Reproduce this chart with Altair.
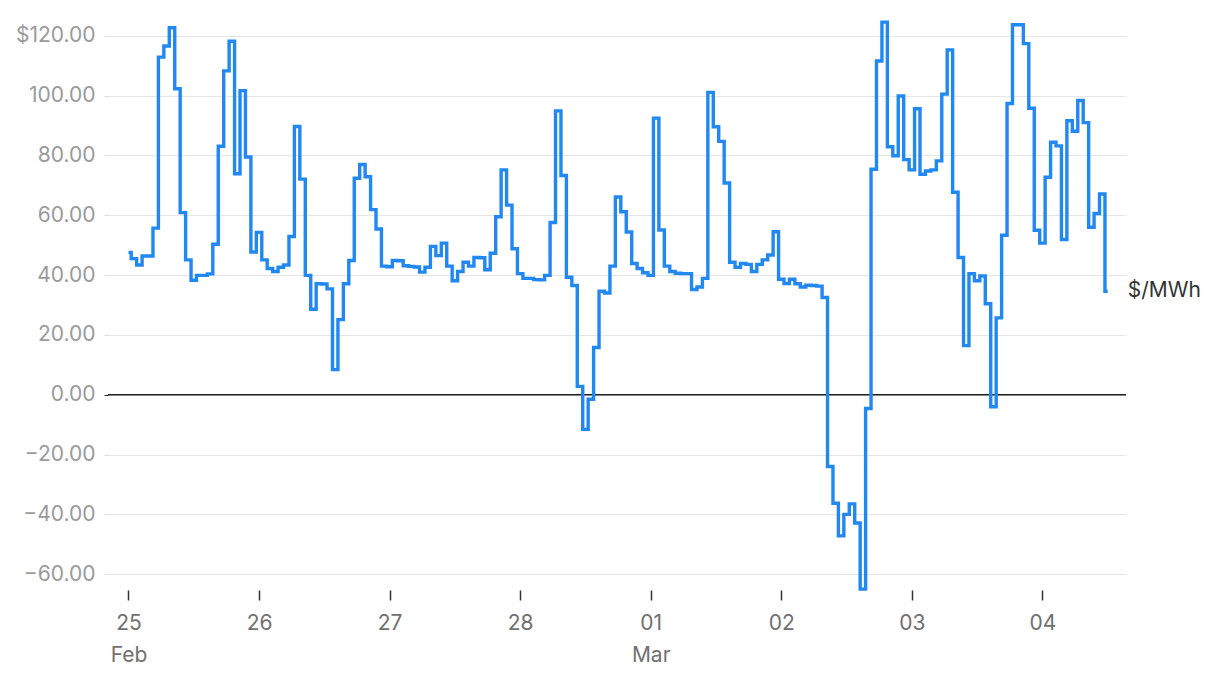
import altair as alt
import pandas as pd

# Hourly prices ($/MWh), 25 Feb 00:00 -> 4 Mar 12:00
start = "2025-02-25 00:00"
prices = [
    47.6, 45.5, 43.4, 46.4, 46.4, 55.7, 112.9, 116.6, 122.7, 102.3, 60.9, 45.1,
    38.3, 39.9, 39.9, 40.4, 50.3, 83.1, 108.3, 118.2, 73.9, 101.7, 79.5, 47.7,
    54.3, 45.1, 42.2, 41.2, 42.6, 43.4, 52.9, 89.7, 72.1, 39.9, 28.6, 37.1,
    37.0, 35.4, 8.4, 25.1, 37.1, 44.9, 72.4, 77.0, 72.9, 61.9, 55.4, 43.0,
    42.8, 44.9, 44.8, 43.1, 42.9, 42.7, 41.0, 42.6, 49.6, 46.5, 50.7, 43.0,
    38.1, 41.2, 44.3, 43.0, 45.9, 45.8, 41.8, 47.3, 59.5, 75.2, 63.4, 48.8,
    40.5, 38.9, 38.9, 38.5, 38.4, 39.9, 57.6, 94.9, 73.3, 39.3, 36.5, 2.8,
    -11.6, -1.5, 15.8, 34.6, 34.0, 43.0, 66.1, 61.2, 54.4, 43.9, 42.2, 40.8,
    39.9, 92.5, 55.1, 43.0, 41.2, 40.6, 40.5, 40.5, 35.2, 36.0, 38.9, 101.1,
    89.6, 84.7, 70.8, 44.3, 42.6, 43.9, 43.6, 41.2, 43.6, 45.1, 46.7, 54.5,
    38.6, 37.2, 38.6, 37.1, 36.0, 36.6, 36.5, 36.3, 32.5, -24.0, -36.3, -47.2,
    -40.0, -36.5, -42.9, -65.0, -4.6, 75.4, 111.6, 124.6, 82.9, 79.9, 99.9, 78.6,
    75.2, 95.6, 73.7, 74.8, 75.2, 78.2, 100.5, 115.3, 67.7, 45.9, 16.4, 40.5,
    38.1, 39.7, 30.4, -4.0, 25.7, 53.3, 97.4, 123.7, 123.7, 117.4, 95.8, 55.0,
    50.7, 72.7, 84.4, 83.2, 51.9, 91.6, 88.1, 98.4, 91.0, 56.0, 60.6, 67.1,
    34.6,
]
y_ticks = [-60, -40, -20, 0, 20, 40, 60, 80, 100, 120]
day_ticks = [(2, 25), (2, 26), (2, 27), (2, 28), (3, 1), (3, 2), (3, 3), (3, 4)]
unit_label = "$/MWh"

times = pd.date_range(start, periods=len(prices), freq="h")
df = pd.DataFrame({"t": times.strftime("%Y-%m-%dT%H:%M:%S"), "v": prices})
last = df.iloc[[-1]].copy()
last["lab"] = unit_label

x_scale = alt.Scale(
    domain=[
        alt.DateTime(year=2025, month=2, date=24, hours=20, minutes=14),
        alt.DateTime(year=2025, month=3, date=4, hours=15, minutes=22),
    ]
)
y_scale = alt.Scale(domain=[-65.3, 125.3], nice=False, zero=False)

x_axis = alt.Axis(
    values=[alt.DateTime(year=2025, month=m, date=d) for m, d in day_ticks],
    labelExpr="(timeFormat(datum.value, '%d') == '25' || timeFormat(datum.value, '%d') == '01') ? [timeFormat(datum.value, '%d'), timeFormat(datum.value, '%b')] : timeFormat(datum.value, '%d')",
    grid=False,
    domain=False,
    ticks=True,
    tickSize=10,
    tickWidth=1.5,
    tickColor="#333333",
    labelPadding=12,
    labelFontSize=21,
    labelColor="#707070",
    labelFont="Inter",
    labelLineHeight=32,
    labelAlign="center",
    title=None,
)

y_axis = alt.Axis(
    values=y_ticks,
    labelExpr="datum.value == 120 ? '$120.00' : format(datum.value, '.2f')",
    grid=True,
    gridColor="#e6e6e6",
    gridWidth=1.2,
    domain=False,
    tickSize=4,
    tickColor={"condition": {"test": "datum.value === 0", "value": "#222222"}, "value": "#dddddd"},
    labelPadding=9,
    labelFontSize=21,
    labelColor="#9a9a9a",
    labelFont="Inter",
    title=None,
)

base = alt.Chart(df)

line = base.mark_line(interpolate="step", color="#2188f2", strokeWidth=3.4).encode(
    x=alt.X("t:T", scale=x_scale, axis=x_axis),
    y=alt.Y("v:Q", scale=y_scale, axis=y_axis),
)

zero = alt.Chart(pd.DataFrame({"z": [0]})).mark_rule(color="#222222", strokeWidth=1.5).encode(
    y=alt.Y("z:Q", scale=y_scale)
)

label = alt.Chart(last).mark_text(
    align="left", baseline="middle", dx=20, fontSize=21, font="Inter", color="#333333"
).encode(
    x=alt.X("t:T", scale=x_scale),
    y=alt.Y("v:Q", scale=y_scale),
    text="lab:N",
)

chart = (
    alt.layer(zero, line, label)
    .properties(
        width=1018,
        height=570,
        autosize=alt.AutoSizeParams(type="none"),
        padding={"left": 100, "top": 12, "right": 86, "bottom": 86},
    )
    .configure_view(stroke=None)
)

chart.save("out.html", embed_options={"renderer": "svg", "actions": False})
